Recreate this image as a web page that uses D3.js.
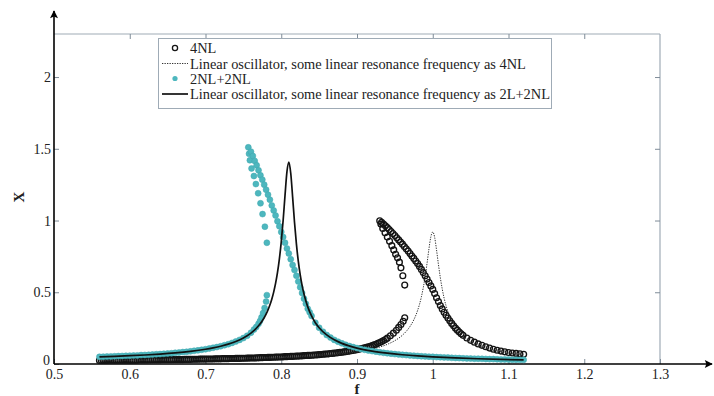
<!DOCTYPE html>
<html>
<head>
<meta charset="utf-8">
<script src="https://cdn.jsdelivr.net/npm/d3@7"></script>
<style>
html,body{margin:0;padding:0;background:#fff;}
svg{display:block;}
svg text{font-family:"Liberation Serif","Times New Roman",serif !important;fill:#222;}
</style>
</head>
<body>
<svg id="chart" width="714" height="396"></svg>
<script>
// ---------- DATA ----------
const xTicks = [0.5, 0.6, 0.7, 0.8, 0.9, 1, 1.1, 1.2, 1.3];
const xTickLabels = ["0.5", "0.6", "0.7", "0.8", "0.9", "1", "1.1", "1.2", "1.3"];
const yTicks = [0, 0.5, 1, 1.5, 2];
const yTickLabels = ["0", "0.5", "1", "1.5", "2"];
const legendLabels = [
  "4NL",
  "Linear oscillator, some linear resonance frequency as 4NL",
  "2NL+2NL",
  "Linear oscillator, some linear resonance frequency as 2L+2NL"
];

// 4NL (open circles): lower branch, unstable branch, upper branch  [f, X]
const fourNLLower = [
  [0.5600,0.025],[0.5625,0.025],[0.5650,0.025],[0.5675,0.025],[0.5700,0.025],[0.5725,0.026],[0.5750,0.026],
  [0.5775,0.026],[0.5800,0.026],[0.5825,0.026],[0.5850,0.026],[0.5875,0.026],[0.5900,0.026],[0.5925,0.027],
  [0.5950,0.027],[0.5975,0.027],[0.6000,0.027],[0.6025,0.027],[0.6050,0.027],[0.6075,0.027],[0.6100,0.027],
  [0.6125,0.028],[0.6150,0.028],[0.6175,0.028],[0.6200,0.028],[0.6225,0.028],[0.6250,0.028],[0.6275,0.029],
  [0.6300,0.029],[0.6325,0.029],[0.6350,0.029],[0.6375,0.029],[0.6400,0.029],[0.6425,0.030],[0.6450,0.030],
  [0.6475,0.030],[0.6500,0.030],[0.6525,0.030],[0.6550,0.030],[0.6575,0.031],[0.6600,0.031],[0.6625,0.031],
  [0.6650,0.031],[0.6675,0.031],[0.6700,0.031],[0.6725,0.032],[0.6750,0.032],[0.6775,0.032],[0.6800,0.032],
  [0.6825,0.033],[0.6850,0.033],[0.6875,0.033],[0.6900,0.033],[0.6925,0.034],[0.6950,0.034],[0.6975,0.034],
  [0.7000,0.034],[0.7025,0.035],[0.7050,0.035],[0.7075,0.035],[0.7100,0.035],[0.7125,0.036],[0.7150,0.036],
  [0.7175,0.036],[0.7200,0.036],[0.7225,0.037],[0.7250,0.037],[0.7275,0.037],[0.7300,0.037],[0.7325,0.038],
  [0.7350,0.038],[0.7375,0.038],[0.7400,0.039],[0.7425,0.039],[0.7450,0.039],[0.7475,0.040],[0.7500,0.040],
  [0.7525,0.040],[0.7550,0.041],[0.7575,0.041],[0.7600,0.042],[0.7625,0.042],[0.7650,0.042],[0.7675,0.043],
  [0.7700,0.043],[0.7725,0.044],[0.7750,0.044],[0.7775,0.045],[0.7800,0.045],[0.7825,0.046],[0.7850,0.046],
  [0.7875,0.047],[0.7900,0.047],[0.7925,0.048],[0.7950,0.048],[0.7975,0.049],[0.8000,0.049],[0.8025,0.050],
  [0.8050,0.051],[0.8075,0.051],[0.8100,0.052],[0.8125,0.053],[0.8150,0.053],[0.8175,0.054],[0.8200,0.055],
  [0.8225,0.055],[0.8250,0.056],[0.8275,0.057],[0.8300,0.058],[0.8325,0.059],[0.8350,0.060],[0.8375,0.060],
  [0.8400,0.061],[0.8425,0.062],[0.8450,0.063],[0.8475,0.064],[0.8500,0.065],[0.8525,0.066],[0.8550,0.068],
  [0.8575,0.069],[0.8600,0.070],[0.8625,0.071],[0.8650,0.073],[0.8675,0.074],[0.8700,0.076],[0.8725,0.077],
  [0.8750,0.079],[0.8775,0.081],[0.8800,0.082],[0.8825,0.084],[0.8850,0.086],[0.8875,0.088],[0.8900,0.090],
  [0.8925,0.093],[0.8950,0.095],[0.8975,0.097],[0.9000,0.100],[0.9025,0.103],[0.9050,0.106],[0.9075,0.109],
  [0.9100,0.112],[0.9125,0.116],[0.9150,0.120],[0.9175,0.124],[0.9200,0.128],[0.9225,0.133],[0.9250,0.138],
  [0.9275,0.144],[0.9300,0.150],[0.9325,0.156],[0.9350,0.163],[0.9375,0.171],[0.9400,0.180],[0.944,0.197],
  [0.948,0.215],[0.952,0.235],[0.955,0.255],[0.958,0.275],[0.961,0.298],[0.963,0.322]
];
const fourNLUnstable = [
  [0.9315,0.975],[0.934,0.945],[0.937,0.915],[0.940,0.885],[0.943,0.855],[0.946,0.825],[0.9485,0.795],
  [0.951,0.765],[0.9535,0.740],[0.956,0.710],[0.958,0.670],[0.9605,0.615],[0.963,0.550]
];
const fourNLUpper = [
  [0.9300,0.998],[0.9325,0.987],[0.9350,0.975],[0.9375,0.963],[0.9400,0.950],[0.9425,0.937],[0.9450,0.923],
  [0.9475,0.909],[0.9500,0.895],[0.9525,0.880],[0.9550,0.865],[0.9575,0.850],[0.9600,0.835],[0.9625,0.819],
  [0.9650,0.803],[0.9675,0.787],[0.9700,0.770],[0.9725,0.753],[0.9750,0.736],[0.9775,0.718],[0.9800,0.700],
  [0.9825,0.680],[0.9850,0.659],[0.9875,0.637],[0.9900,0.615],[0.9925,0.592],[0.9950,0.568],[0.9975,0.544],
  [1.0000,0.520],[1.0025,0.491],[1.0050,0.462],[1.0075,0.435],[1.0100,0.408],[1.0125,0.384],[1.0150,0.361],
  [1.0175,0.340],[1.0200,0.320],[1.0225,0.301],[1.0250,0.283],[1.0275,0.266],[1.0300,0.250],[1.0325,0.236],
  [1.0350,0.223],[1.0375,0.211],[1.0400,0.200],[1.045,0.181],[1.050,0.165],[1.055,0.152],[1.060,0.140],
  [1.065,0.130],[1.070,0.120],[1.075,0.111],[1.080,0.103],[1.085,0.096],[1.090,0.090],[1.095,0.085],
  [1.100,0.080],[1.105,0.077],[1.110,0.074],[1.115,0.071],[1.120,0.068]
];

// Linear oscillator, same linear resonance frequency as 4NL (dotted line)
const linear4NL = [
  [0.56,0.0235],[0.60,0.0252],[0.65,0.0279],[0.70,0.0316],[0.75,0.0368],[0.80,0.0447],[0.85,0.058],
  [0.88,0.0714],[0.90,0.0847],[0.92,0.104],[0.94,0.137],[0.95,0.163],[0.96,0.201],[0.97,0.262],
  [0.975,0.308],[0.98,0.373],[0.985,0.468],[0.99,0.610],[0.9925,0.703],[0.995,0.803],[0.9975,0.887],
  [1.0,0.92],[1.0025,0.883],[1.005,0.795],[1.0075,0.694],[1.01,0.602],[1.015,0.459],[1.02,0.365],
  [1.03,0.254],[1.04,0.193],[1.06,0.129],[1.08,0.096],[1.10,0.076],[1.12,0.063]
];

// 2NL+2NL (cyan dots): lower branch, unstable branch, upper branch
const cyanLower = [
  [0.560,0.050],[0.565,0.051],[0.570,0.052],[0.575,0.053],[0.580,0.054],[0.585,0.055],[0.590,0.056],[0.595,0.057],
  [0.600,0.058],[0.605,0.059],[0.610,0.060],[0.615,0.062],[0.620,0.063],[0.625,0.064],[0.630,0.066],[0.635,0.068],
  [0.640,0.069],[0.645,0.071],[0.650,0.073],[0.655,0.075],[0.660,0.078],[0.665,0.080],[0.670,0.083],[0.675,0.085],
  [0.680,0.088],[0.685,0.092],[0.690,0.095],[0.695,0.099],[0.700,0.103],[0.705,0.108],[0.710,0.113],[0.715,0.118],
  [0.720,0.124],[0.725,0.131],[0.730,0.138],[0.735,0.147],[0.740,0.157],[0.745,0.168],[0.750,0.181],[0.755,0.197],
  [0.760,0.218],[0.764,0.240],[0.767,0.258],[0.770,0.280],[0.772,0.300],[0.774,0.325],[0.776,0.355],[0.778,0.390],
  [0.780,0.435],[0.781,0.480]
];
const cyanUnstable = [
  [0.7575,1.465],[0.7586,1.420],[0.7608,1.363],[0.7639,1.310],[0.7665,1.254],[0.7695,1.190],
  [0.7726,1.120],[0.7753,1.045],[0.7784,0.957],[0.7810,0.845]
];
const cyanUpper = [
  [0.7565,1.510],[0.7600,1.480],[0.7625,1.450],[0.7650,1.415],[0.7675,1.385],[0.7700,1.350],[0.7725,1.315],
  [0.7750,1.285],[0.7775,1.250],[0.7800,1.215],[0.7825,1.180],[0.7850,1.145],[0.7875,1.105],[0.7900,1.070],
  [0.7925,1.035],[0.7950,0.995],[0.7975,0.960],[0.8000,0.920],[0.8025,0.885],[0.8050,0.845],[0.8075,0.805],
  [0.8100,0.770],[0.8125,0.730],[0.8150,0.690],[0.8175,0.655],[0.8200,0.615],[0.8225,0.575],[0.8250,0.535],
  [0.8275,0.495],[0.8300,0.455],[0.8325,0.420],[0.8350,0.385],[0.8375,0.360],[0.840,0.335],[0.845,0.288],
  [0.850,0.253],[0.855,0.225],[0.860,0.202],[0.865,0.184],[0.870,0.168],[0.875,0.155],[0.880,0.144],
  [0.885,0.134],[0.890,0.125],[0.895,0.118],[0.900,0.111],[0.905,0.105],[0.910,0.099],[0.915,0.094],
  [0.920,0.090],[0.925,0.086],[0.930,0.082],[0.935,0.078],[0.940,0.075],[0.945,0.072],[0.950,0.069],
  [0.955,0.067],[0.960,0.064],[0.965,0.062],[0.970,0.060],[0.975,0.058],[0.980,0.056],[0.985,0.054],
  [0.990,0.053],[0.995,0.051],[1.000,0.050],[1.005,0.048],[1.010,0.047],[1.015,0.046],[1.020,0.045],
  [1.025,0.043],[1.030,0.042],[1.035,0.041],[1.040,0.040],[1.045,0.039],[1.050,0.038],[1.055,0.037],
  [1.060,0.037],[1.065,0.036],[1.070,0.035],[1.075,0.034],[1.080,0.034],[1.085,0.033],[1.090,0.032],
  [1.095,0.032],[1.100,0.031],[1.105,0.030],[1.110,0.030],[1.115,0.029],[1.120,0.029]
];

// Linear oscillator, same linear resonance frequency as 2L+2NL (solid line)
const linear2L2NL = [
  [0.56,0.0499],[0.58,0.0535],[0.60,0.0578],[0.62,0.0629],[0.64,0.0694],[0.66,0.0776],[0.68,0.0883],
  [0.70,0.1029],[0.71,0.1125],[0.72,0.1238],[0.73,0.1383],[0.74,0.1568],[0.75,0.1814],[0.755,0.197],
  [0.76,0.2156],[0.765,0.2382],[0.77,0.2662],[0.775,0.3017],[0.78,0.3482],[0.7825,0.3772],[0.785,0.4113],
  [0.7875,0.452],[0.79,0.5011],[0.7925,0.5614],[0.795,0.6365],[0.7975,0.7312],[0.80,0.8516],[0.8025,1.002],
  [0.805,1.177],[0.8075,1.339],[0.81,1.407],[0.8125,1.331],[0.815,1.165],[0.8175,0.988],[0.82,0.837],
  [0.8225,0.717],[0.825,0.6225],[0.8275,0.5476],[0.83,0.4874],[0.835,0.398],[0.84,0.335],[0.845,0.288],
  [0.85,0.253],[0.86,0.2024],[0.87,0.1683],[0.88,0.1437],[0.90,0.1107],[0.92,0.0896],[0.94,0.0752],
  [0.96,0.0644],[0.98,0.0562],[1.00,0.0497],[1.03,0.0422],[1.06,0.0366],[1.09,0.0321],[1.12,0.0286]
];

// ---------- DRAWING ----------
const FONT = "'Liberation Serif','Times New Roman',serif";
const svg = d3.select("#chart");
const x = d3.scaleLinear().domain([0.5, 1.3]).range([54, 660]);
const y = d3.scaleLinear().domain([0, 2.3]).range([364, 34]);

const boxColor = "#9fabb6";
const tickColor = "#7f8c98";
const cyan = "#4db7be";

// Top and right frame lines
svg.append("line").attr("x1", x(0.5)).attr("x2", x(1.3)).attr("y1", y(2.3)).attr("y2", y(2.3))
  .attr("stroke", boxColor).attr("stroke-width", 1.2);
svg.append("line").attr("x1", x(1.3)).attr("x2", x(1.3)).attr("y1", y(2.3)).attr("y2", y(0))
  .attr("stroke", boxColor).attr("stroke-width", 1.2);

// Bottom axis (ticks inward)
const gx = svg.append("g").attr("transform", `translate(0,${y(0)})`)
  .call(d3.axisBottom(x).tickValues(xTicks).tickSizeInner(-5).tickSizeOuter(0).tickPadding(5)
    .tickFormat((d, i) => xTickLabels[i]));
gx.attr("font-family", FONT);
gx.select(".domain").remove();
gx.selectAll(".tick line").attr("stroke", tickColor);
gx.selectAll("text").attr("font-size", 14).attr("font-family", FONT).attr("fill", "#222");

// Left axis (ticks inward)
const gy = svg.append("g").attr("transform", `translate(${x(0.5)},0)`)
  .call(d3.axisLeft(y).tickValues(yTicks).tickSizeInner(-5).tickSizeOuter(0).tickPadding(3)
    .tickFormat((d, i) => yTickLabels[i]));
gy.attr("font-family", FONT);
gy.select(".domain").remove();
gy.selectAll(".tick line").attr("stroke", tickColor);
gy.selectAll("text").attr("font-size", 14).attr("font-family", FONT).attr("fill", "#222");
gy.selectAll(".tick").filter(d => d === 0).select("text").attr("y", -4).attr("x", -4);

// Top & right ticks (no labels)
const gt = svg.append("g").attr("transform", `translate(0,${y(2.3)})`)
  .call(d3.axisTop(x).tickValues(xTicks.slice(1, -1)).tickSizeInner(-5).tickSizeOuter(0).tickFormat(""));
gt.select(".domain").remove();
gt.selectAll(".tick line").attr("stroke", tickColor);
const gr = svg.append("g").attr("transform", `translate(${x(1.3)},0)`)
  .call(d3.axisRight(y).tickValues(yTicks.slice(1)).tickSizeInner(-5).tickSizeOuter(0).tickFormat(""));
gr.select(".domain").remove();
gr.selectAll(".tick line").attr("stroke", tickColor);

// Main axis lines with arrows
const defs = svg.append("defs");
defs.append("marker").attr("id", "arrow").attr("viewBox", "0 0 10 10").attr("refX", 9).attr("refY", 5)
  .attr("markerWidth", 10).attr("markerHeight", 8).attr("markerUnits", "userSpaceOnUse").attr("orient", "auto")
  .append("path").attr("d", "M0,0 L10,5 L0,10 L2,5 Z").attr("fill", "#000");
svg.append("line").attr("x1", x(0.5)).attr("x2", 712).attr("y1", y(0)).attr("y2", y(0))
  .attr("stroke", "#000").attr("stroke-width", 1.6).attr("marker-end", "url(#arrow)");
svg.append("line").attr("x1", x(0.5)).attr("x2", x(0.5)).attr("y1", y(0)).attr("y2", 11)
  .attr("stroke", "#000").attr("stroke-width", 1.6).attr("marker-end", "url(#arrow)");

// Axis titles
svg.append("text").attr("x", 357).attr("y", 394).attr("text-anchor", "middle").attr("font-family", FONT)
  .attr("font-size", 15).attr("font-weight", "bold").text("f");
svg.append("text").attr("transform", "translate(24,197) rotate(-90)").attr("text-anchor", "middle")
  .attr("font-family", FONT).attr("font-size", 15).attr("font-weight", "bold").text("X");

const plot = svg.append("g");

// 4NL open circles
[fourNLLower, fourNLUnstable, fourNLUpper].forEach(arr => {
  plot.append("g").selectAll("circle").data(arr).join("circle")
    .attr("cx", d => x(d[0])).attr("cy", d => y(d[1])).attr("r", 2.9)
    .attr("fill", "none").attr("stroke", "#141414").attr("stroke-width", 1.35);
});

// Dotted linear (4NL)
const line = d3.line().x(d => x(d[0])).y(d => y(d[1])).curve(d3.curveMonotoneX);
plot.append("path").datum(linear4NL).attr("d", line).attr("fill", "none")
  .attr("stroke", "#333").attr("stroke-width", 1).attr("stroke-dasharray", "1.3,1.2");

// Cyan dots
[cyanLower, cyanUnstable, cyanUpper].forEach(arr => {
  plot.append("g").selectAll("circle").data(arr).join("circle")
    .attr("cx", d => x(d[0])).attr("cy", d => y(d[1])).attr("r", 3)
    .attr("fill", cyan).attr("stroke", "#3ea7af").attr("stroke-width", 0.5);
});

// Solid linear (2L+2NL)
plot.append("path").datum(linear2L2NL).attr("d", line).attr("fill", "none")
  .attr("stroke", "#111").attr("stroke-width", 1.7);

// Legend
const lg = svg.append("g");
lg.append("rect").attr("x", 158.5).attr("y", 38.5).attr("width", 393).attr("height", 70)
  .attr("fill", "#fff").attr("stroke", boxColor).attr("stroke-width", 1);
const rowsY = [48, 63.5, 78.5, 94];
lg.append("circle").attr("cx", 175).attr("cy", rowsY[0]).attr("r", 2.6)
  .attr("fill", "none").attr("stroke", "#151515").attr("stroke-width", 1.3);
lg.append("line").attr("x1", 162).attr("x2", 188).attr("y1", rowsY[1]).attr("y2", rowsY[1])
  .attr("stroke", "#333").attr("stroke-width", 1).attr("stroke-dasharray", "1.3,1.2");
lg.append("circle").attr("cx", 175).attr("cy", rowsY[2]).attr("r", 2.6).attr("fill", cyan);
lg.append("line").attr("x1", 162).attr("x2", 188).attr("y1", rowsY[3]).attr("y2", rowsY[3])
  .attr("stroke", "#111").attr("stroke-width", 1.7);
lg.selectAll("text.leg").data(legendLabels).join("text").attr("class", "leg")
  .attr("x", 190).attr("y", (d, i) => rowsY[i] + 5).attr("font-family", FONT)
  .attr("font-size", 14.4).text(d => d);
</script>
</body>
</html>
